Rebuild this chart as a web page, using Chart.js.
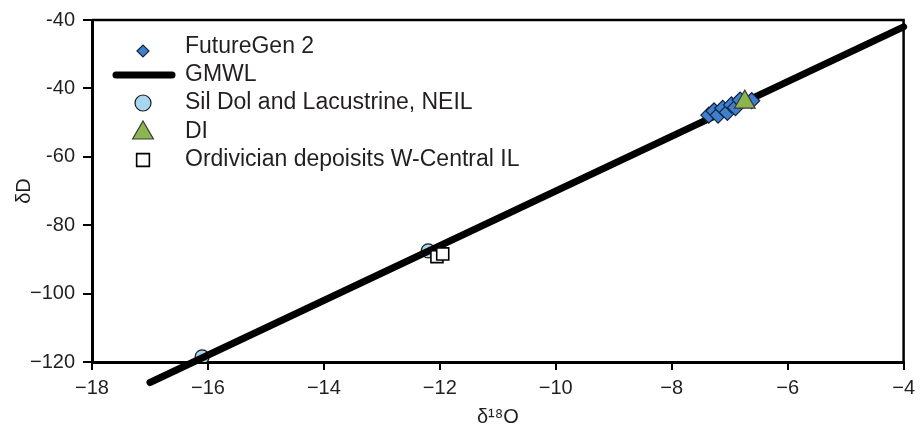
<!DOCTYPE html>
<html><head><meta charset="utf-8">
<script src="https://cdn.jsdelivr.net/npm/chart.js@4/dist/chart.umd.min.js"></script>
<style>html,body{margin:0;padding:0;background:#fff}#wrap{width:921px;height:427px;position:relative}</style>
</head><body><div id="wrap"><canvas id="c"></canvas></div>
<script>
// ---- data ----
const futureGenX = [-7.36, -7.27, -7.20, -7.12, -7.04, -6.97, -6.90, -6.82, -6.62];
const futureGenY = [-47.8, -46.6, -47.8, -45.8, -47.0, -44.8, -45.6, -43.4, -43.6];
const gmwlX = [-17, -4];
const gmwlY = [-126, -22];
const silDolX = [-16.1, -12.2];
const silDolY = [-118.5, -87.5];
const diX = [-6.74];
const diY = [-44];
const ordX = [-12.05, -11.95];
const ordY = [-89.2, -88.4];
const seriesNames = ['FutureGen 2', 'GMWL', 'Sil Dol and Lacustrine, NEIL', 'DI', 'Ordivician depoisits W-Central IL'];
const xTickValues = [-18, -16, -14, -12, -10, -8, -6, -4];
const xTickLabels = ['\u221218', '\u221216', '\u221214', '\u221212', '\u221210', '\u22128', '\u22126', '\u22124'];
const yTickValues = [-120, -100, -80, -60, -40, -20];
const yTickLabels = ['\u2212120', '\u2212100', '-80', '-60', '-40', '-40'];
const xTitle = '\u03b4\u00b9\u2078O';
const yTitle = '\u03b4D';

const pts = (xs, ys) => xs.map((x, i) => ({x: x, y: ys[i]}));
const FONT = "'Liberation Sans', Arial, Helvetica, sans-serif";
const TXT = '#231f20';

const datasets = [
  {label: seriesNames[0], data: pts(futureGenX, futureGenY), type: 'scatter', order: 1,
   pointStyle: 'rectRot', pointRadius: 8, backgroundColor: '#3f7fcb', borderColor: '#10233f', borderWidth: 1.2},
  {label: seriesNames[1], data: pts(gmwlX, gmwlY), type: 'line', order: 3, clip: false,
   showLine: true, pointRadius: 0, borderColor: '#000', borderWidth: 7, borderCapStyle: 'round', fill: false},
  {label: seriesNames[2], data: pts(silDolX, silDolY), type: 'scatter', order: 4,
   pointStyle: 'circle', pointRadius: 7, backgroundColor: '#a8d6f0', borderColor: '#1a1a1a', borderWidth: 1.2},
  {label: seriesNames[3], data: pts(diX, diY), type: 'scatter', order: 0,
   pointStyle: 'triangle', pointRadius: 12, backgroundColor: '#8db54e', borderColor: '#3a3a3a', borderWidth: 1.2},
  {label: seriesNames[4], data: pts(ordX, ordY), type: 'scatter', order: 2,
   pointStyle: 'rect', pointRadius: 8.5, backgroundColor: '#ffffff', borderColor: '#000', borderWidth: 1.6}
];

const legendPlugin = {
  id: 'insideLegend',
  afterDraw(chart) {
    const ctx = chart.ctx;
    const rows = [47, 75, 103, 132, 160];
    const symX = 143, textX = 185;
    ctx.save();
    chart.data.datasets.forEach((ds, i) => {
      const y = rows[i];
      if (ds.type === 'line') {
        ctx.beginPath();
        ctx.lineCap = 'round';
        ctx.strokeStyle = ds.borderColor;
        ctx.lineWidth = 7;
        ctx.moveTo(116, y); ctx.lineTo(172, y);
        ctx.stroke();
      } else {
        const r = {rectRot: 6, circle: 8, triangle: 12, rect: 9}[ds.pointStyle];
        const dy = ds.pointStyle === 'rectRot' ? 4 : (ds.pointStyle === 'triangle' ? 1 : 0);
        ctx.fillStyle = ds.backgroundColor;
        ctx.strokeStyle = ds.borderColor;
        ctx.lineWidth = ds.borderWidth;
        Chart.helpers.drawPoint(ctx, {pointStyle: ds.pointStyle, radius: r, rotation: 0, borderWidth: ds.borderWidth}, symX, y + dy);
      }
      ctx.fillStyle = TXT;
      ctx.font = '23px ' + FONT;
      ctx.textBaseline = 'middle';
      ctx.textAlign = 'left';
      ctx.fillText(ds.label, textX, y);
    });
    ctx.restore();
  }
};

const framePlugin = {
  id: 'frame',
  afterDatasetsDraw(chart) {
    const a = chart.chartArea, ctx = chart.ctx;
    ctx.save();
    ctx.strokeStyle = '#000';
    ctx.lineWidth = 2.5;
    ctx.beginPath();
    ctx.moveTo(a.left, a.top); ctx.lineTo(a.right, a.top); ctx.lineTo(a.right, a.bottom);
    ctx.stroke();
    ctx.restore();
  }
};

new Chart(document.getElementById('c'), {
  type: 'scatter',
  data: {datasets: datasets},
  options: {
    responsive: true, maintainAspectRatio: false, animation: false,
    layout: {padding: {left: 0, right: 7, top: 17, bottom: 0}},
    plugins: {legend: {display: false}, tooltip: {enabled: false}},
    scales: {
      x: {
        type: 'linear', min: -18, max: -4,
        afterFit(s) { s.height = 65; },
        afterBuildTicks(s) { s.ticks = xTickValues.map(v => ({value: v})); },
        ticks: {callback: (v, i) => xTickLabels[i], color: TXT, font: {family: FONT, size: 20}, padding: 6, maxRotation: 0, autoSkip: false},
        grid: {drawOnChartArea: false, color: '#000', lineWidth: 2, tickLength: 8},
        border: {display: true, color: '#000', width: 3},
        title: {display: true, text: xTitle, color: TXT, font: {family: FONT, size: 20, lineHeight: 1}, padding: 0}
      },
      y: {
        type: 'linear', min: -120, max: -20,
        afterFit(s) { s.width = 92; },
        afterBuildTicks(s) { s.ticks = yTickValues.map(v => ({value: v})); },
        ticks: {callback: (v, i) => yTickLabels[i], color: TXT, font: {family: FONT, size: 20}, padding: 8, autoSkip: false},
        grid: {drawOnChartArea: false, color: '#000', lineWidth: 2, tickLength: 9},
        border: {display: true, color: '#000', width: 3},
        title: {display: true, text: yTitle, color: TXT, font: {family: FONT, size: 20}, padding: {top: 12, bottom: 0}}
      }
    }
  },
  plugins: [legendPlugin, framePlugin]
});
</script>
</body></html>
